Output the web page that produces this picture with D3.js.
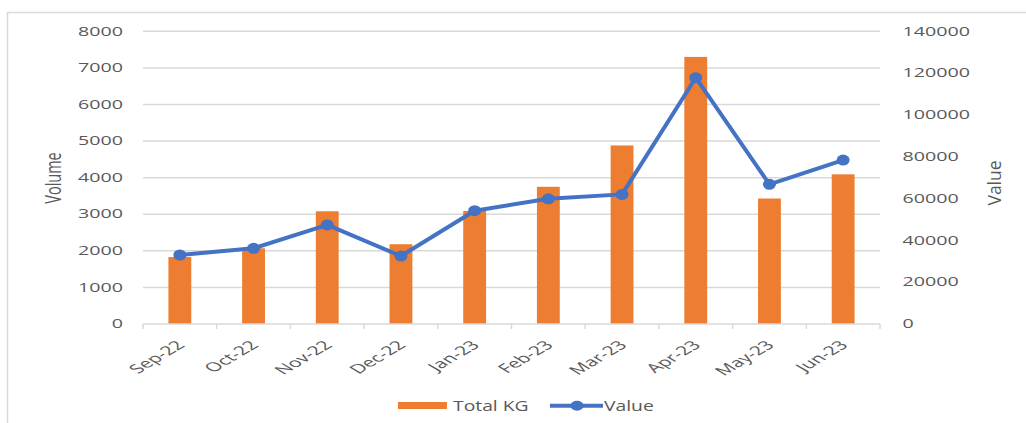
<!DOCTYPE html>
<html>
<head>
<meta charset="utf-8">
<script src="https://cdn.jsdelivr.net/npm/d3@7"></script>
<style>
  html, body { margin: 0; padding: 0; background: #fff; }
  text { font-family: "Open Sans", sans-serif; fill: #595959; }
</style>
</head>
<body>
<script>
const months = ["Sep-22", "Oct-22", "Nov-22", "Dec-22", "Jan-23", "Feb-23", "Mar-23", "Apr-23", "May-23", "Jun-23"];
const totalKg = [1830, 2070, 3080, 2180, 3090, 3750, 4880, 7300, 3430, 4090];
const value = [33000, 36200, 47400, 32500, 54200, 59900, 62000, 117800, 66800, 78400];
const volumeTicks = [0, 1000, 2000, 3000, 4000, 5000, 6000, 7000, 8000];
const valueTicks = [0, 20000, 40000, 60000, 80000, 100000, 120000, 140000];

const width = 1026;
const height = 423;
const plotLeft = 143, plotRight = 880, plotTop = 31.3, plotBottom = 324;

const orange = "#ED7D31";
const blue = "#4472C4";
const grid = "#d9d9d9";

const svg = d3.select("body")
  .append("svg")
  .attr("width", width)
  .attr("height", height);

// chart border
svg.append("rect")
  .attr("x", 7.5).attr("y", 12.5)
  .attr("width", 1040).attr("height", 430)
  .attr("fill", "#fff")
  .attr("stroke", grid)
  .attr("stroke-width", 1.5);

const xCat = d3.scaleBand().domain(months).range([plotLeft, plotRight]);
const xBar = d3.scaleBand().domain(months).range([plotLeft, plotRight])
  .paddingInner(0.69).paddingOuter(0.345);
const yLeft = d3.scaleLinear().domain([0, 8000]).range([plotBottom, plotTop]);
const yRight = d3.scaleLinear().domain([0, 140000]).range([plotBottom, plotTop]);

// gridlines
svg.append("g")
  .selectAll("line")
  .data(volumeTicks.filter(d => d > 0))
  .enter()
  .append("line")
  .attr("x1", plotLeft).attr("x2", plotRight)
  .attr("y1", d => yLeft(d)).attr("y2", d => yLeft(d))
  .attr("stroke", grid)
  .attr("stroke-width", 1.5);

// left axis labels
svg.append("g")
  .selectAll("text")
  .data(volumeTicks)
  .enter()
  .append("text")
  .attr("transform", d => `translate(${plotLeft - 20},${yLeft(d)}) scale(1.64,1)`)
  .attr("dy", "0.35em")
  .attr("text-anchor", "end")
  .style("font-size", "12px")
  .text(d => d);

// right axis labels
svg.append("g")
  .selectAll("text")
  .data(valueTicks)
  .enter()
  .append("text")
  .attr("transform", d => `translate(${plotRight + 22.5},${yRight(d)}) scale(1.64,1)`)
  .attr("dy", "0.35em")
  .attr("text-anchor", "start")
  .style("font-size", "12px")
  .text(d => d);

// bars
svg.append("g")
  .selectAll("rect")
  .data(months)
  .enter()
  .append("rect")
  .attr("x", d => xBar(d))
  .attr("width", xBar.bandwidth())
  .attr("y", (d, i) => yLeft(totalKg[i]))
  .attr("height", (d, i) => plotBottom - yLeft(totalKg[i]))
  .attr("fill", orange);

// x axis baseline and boundary ticks
svg.append("line")
  .attr("x1", plotLeft).attr("x2", plotRight)
  .attr("y1", plotBottom).attr("y2", plotBottom)
  .attr("stroke", grid)
  .attr("stroke-width", 1.5);

svg.append("g")
  .selectAll("line")
  .data(months.map(m => xCat(m)).concat([plotRight]))
  .enter()
  .append("line")
  .attr("x1", d => d).attr("x2", d => d)
  .attr("y1", plotBottom).attr("y2", plotBottom + 5)
  .attr("stroke", grid)
  .attr("stroke-width", 1.5);

// x labels
svg.append("g")
  .selectAll("text")
  .data(months)
  .enter()
  .append("text")
  .attr("transform", d => `translate(${xCat(d) + xCat.bandwidth() / 2 + 6},346) scale(1.7,1) rotate(-45)`)
  .attr("text-anchor", "end")
  .style("font-size", "12.5px")
  .text(d => d);

// value line
const line = d3.line()
  .x((d, i) => xCat(months[i]) + xCat.bandwidth() / 2)
  .y(d => yRight(d));

svg.append("path")
  .datum(value)
  .attr("d", line)
  .attr("fill", "none")
  .attr("stroke", blue)
  .attr("stroke-width", 4)
  .attr("stroke-linejoin", "round");

svg.append("g")
  .selectAll("ellipse")
  .data(value)
  .enter()
  .append("ellipse")
  .attr("cx", (d, i) => xCat(months[i]) + xCat.bandwidth() / 2)
  .attr("cy", d => yRight(d))
  .attr("rx", 6.5)
  .attr("ry", 5.5)
  .attr("fill", blue);

// axis titles
svg.append("text")
  .attr("transform", "translate(61,178) scale(1.5,1) rotate(-90)")
  .attr("text-anchor", "middle")
  .style("font-size", "14.5px")
  .text("Volume");

svg.append("text")
  .attr("transform", "translate(1000.5,183) scale(1.05,1) rotate(-90)")
  .attr("text-anchor", "middle")
  .style("font-size", "17.5px")
  .text("Value");

// legend
const legend = svg.append("g").attr("id", "legend");

legend.append("rect")
  .attr("x", 398).attr("y", 402)
  .attr("width", 49).attr("height", 7)
  .attr("fill", orange);

legend.append("text")
  .attr("transform", "translate(453,410.5) scale(1.38,1)")
  .style("font-size", "14px")
  .text("Total KG");

legend.append("line")
  .attr("x1", 550).attr("x2", 603)
  .attr("y1", 405.7).attr("y2", 405.7)
  .attr("stroke", blue)
  .attr("stroke-width", 4);

legend.append("ellipse")
  .attr("cx", 577).attr("cy", 405.7)
  .attr("rx", 6.5).attr("ry", 5)
  .attr("fill", blue);

legend.append("text")
  .attr("transform", "translate(604,410.5) scale(1.38,1)")
  .style("font-size", "14px")
  .text("Value");
</script>
</body>
</html>
